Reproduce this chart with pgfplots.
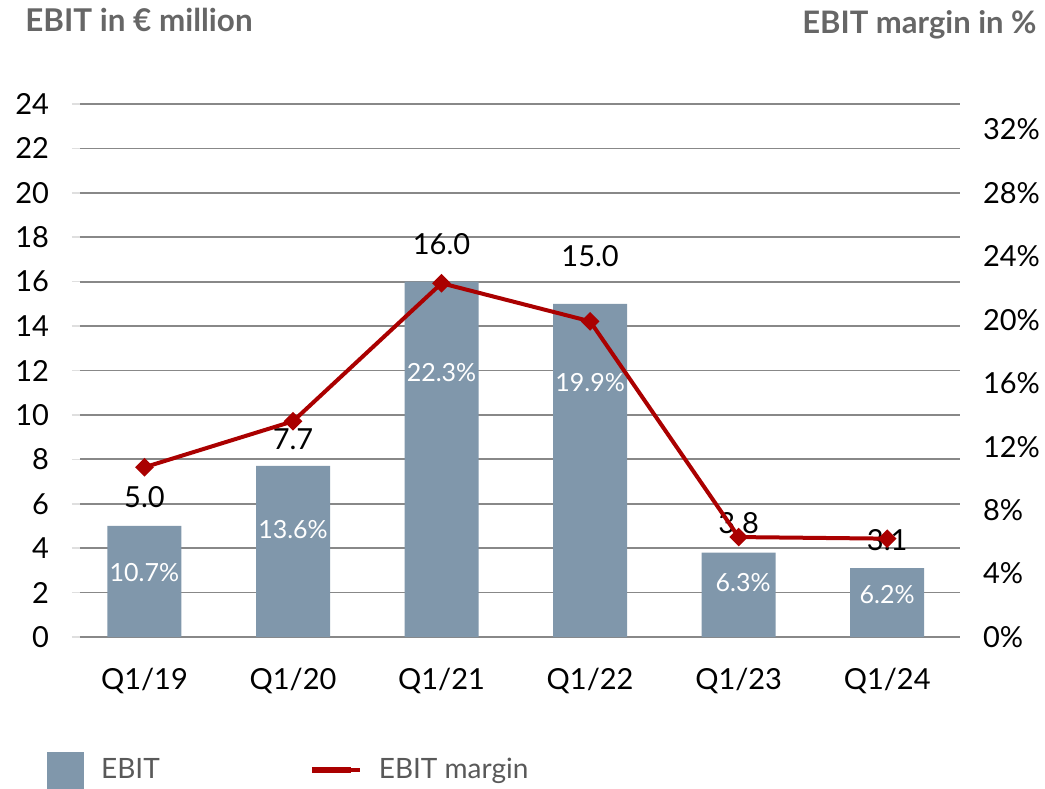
\documentclass[border=0pt]{standalone}
\usepackage{pgfplots}
\pgfplotsset{compat=1.18}
\usepackage{fontspec}
\setmainfont{Lato}
\definecolor{barblue}{RGB}{128,151,171}
\definecolor{linered}{RGB}{170,0,0}
\definecolor{gridgray}{RGB}{136,136,136}
\definecolor{titlegray}{RGB}{102,102,102}
\definecolor{legendgray}{RGB}{89,89,89}
\pgfplotstableread{
x ebit
0 5.0
1 7.7
2 16.0
3 15.0
4 3.8
5 3.1
}\ebit
\pgfplotstableread{
x margin
0 10.7
1 13.6
2 22.3
3 19.9
4 6.3
5 6.2
}\margin
\begin{document}
\begin{tikzpicture}
\useasboundingbox (-40pt,-75.5pt) rectangle (482.5pt,318.5pt);
\begin{axis}[
  scale only axis, width=440pt, height=266.5pt,
  xmin=-0.434, xmax=5.49, ymin=0, ymax=24,
  axis line style={draw=none},
  ytick={0,2,...,24}, ytick pos=left,
  xtick={0,...,5}, xticklabels={Q1/19,Q1/20,Q1/21,Q1/22,Q1/23,Q1/24},
  xtick style={draw=none},
  ytick style={draw=gray!25, line width=0.8pt},
  major tick length=4pt, tick align=outside,
  ymajorgrids, grid style={gridgray, line width=0.85pt},
  tick label style={font=\fontsize{14.5}{17}\selectfont},
  /pgf/number format/assume math mode=true,
  yticklabel style={anchor=east, xshift=-8pt},
  xticklabel style={yshift=-8pt},
  clip=false,
]
\addplot[ybar, bar width=37pt, fill=barblue, draw=none] table[x=x,y=ebit]{\ebit};
% value labels
\begin{scope}[every node/.style={font=\fontsize{14.5}{17}\selectfont, text=black, inner sep=0pt}]
\node at (axis cs:0,6.32) {5.0};
\node at (axis cs:1,8.89) {7.7};
\node at (axis cs:2,17.68) {16.0};
\node at (axis cs:3,17.14) {15.0};
\node at (axis cs:4,5.14) {3.8};
\node at (axis cs:5,4.38) {3.1};
\end{scope}
\begin{scope}[every node/.style={font=\fontsize{12.5}{15}\selectfont, text=white, inner sep=0pt}]
\node at (axis cs:0,2.89) {10.7\%};
\node at (axis cs:1,4.83) {13.6\%};
\node at (axis cs:2,11.91) {22.3\%};
\node at (axis cs:3,11.46) {19.9\%};
\node at (axis cs:4.03,2.44) {6.3\%};
\node at (axis cs:5,1.89) {6.2\%};
\end{scope}
\end{axis}
\begin{axis}[
  scale only axis, width=440pt, height=266.5pt,
  xmin=-0.434, xmax=5.49, ymin=0, ymax=33.6,
  axis line style={draw=none},
  xtick=\empty,
  ytick={0,4,...,32}, ytick pos=right,
  yticklabel pos=right,
  ytick style={draw=none},
  tick label style={font=\fontsize{14.5}{17}\selectfont},
  /pgf/number format/assume math mode=true,
  yticklabel={\pgfmathprintnumber{\tick}\%},
  yticklabel style={anchor=west, xshift=8pt},
  clip=false,
  legend columns=2,
  legend cell align=left,
  legend style={draw=none, fill=none, at={(axis description cs:-0.0375,-0.2495)}, anchor=west,
    inner sep=0pt, font=\fontsize{14}{16}\selectfont\color{legendgray},
    nodes={inner sep=0pt},
    /tikz/every odd column/.append style={column sep=8.5pt},
    /tikz/every even column/.append style={column sep=74.5pt}},
]
\addlegendimage{legend image code/.code={\fill[barblue] (0pt,-9pt) rectangle (18pt,9pt);}}
\addlegendentry{EBIT}
\addplot[linered, line width=2pt, mark=square*, mark size=2.3pt, mark options={rotate=45, fill=linered},
  legend image code/.code={\draw[linered, line width=3pt] (0pt,0pt) -- (19.5pt,0pt); \path (19.5pt,0pt) -- (24pt,0pt);}]
  table[x=x,y=margin]{\margin};
\addlegendentry{EBIT margin}
\end{axis}
\node[anchor=west, inner sep=0pt, font=\bfseries\fontsize{15.7}{18}\selectfont, text=titlegray] at (-27.5pt,308.5pt) {EBIT in € million};
\node[anchor=east, inner sep=0pt, font=\bfseries\fontsize{15.5}{18}\selectfont, text=titlegray] at (478.5pt,306pt) {EBIT margin in \%};
\end{tikzpicture}
\end{document}
